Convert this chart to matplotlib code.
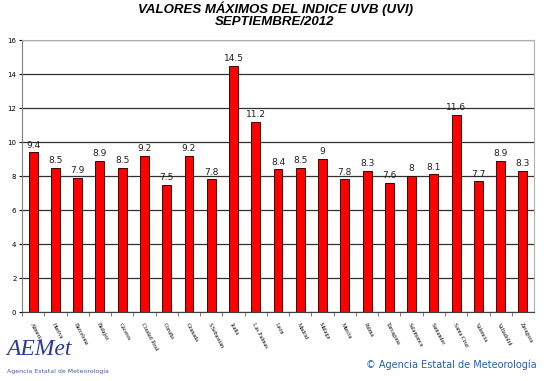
import numpy as np
import matplotlib.pyplot as plt

estaciones = ['Almería', 'Huelva', 'Barcelona', 'Badajoz', 'Cáceres', 'Ciudad Real',
              'Coruña', 'Granada', 'S.Sebastián', 'Izaña', 'Las Palmas', 'León',
              'Madrid', 'Málaga', 'Murcia', 'Palma', 'Tarragona', 'Salamanca',
              'Santander', 'Santa Cruz', 'Valencia', 'Valladolid', 'Zaragoza']
uvi_max = [9.4, 8.5, 7.9, 8.9, 8.5, 9.2, 7.5, 9.2, 7.8, 14.5, 11.2, 8.4,
           8.5, 9, 7.8, 8.3, 7.6, 8, 8.1, 11.6, 7.7, 8.9, 8.3]
y_ticks = [0, 2, 4, 6, 8, 10, 12, 14, 16]

fig = plt.figure(figsize=(5.5, 3.81), dpi=100)
ax = fig.add_axes([0.04, 0.181, 0.931, 0.714])

x = np.arange(len(estaciones))
ax.set_axisbelow(True)
ax.grid(axis='y', color='#303030', linewidth=0.9)
ax.bar(x, uvi_max, width=0.4, color='#ff0000', edgecolor='#400000', linewidth=0.7)

for xi, v in zip(x, uvi_max):
    ax.text(xi, v + 0.15, f'{v:g}', ha='center', va='bottom', fontsize=6.5,
            color='#202020')

ax.set_xlim(-0.5, len(estaciones) - 0.5)
ax.set_ylim(0, 16)
ax.set_yticks(y_ticks)
ax.tick_params(axis='y', labelsize=5, length=2, pad=2)
ax.set_xticks(x - 0.5, minor=False)
ax.set_xticklabels([])
ax.set_xticks(x, minor=True)
ax.set_xticklabels(estaciones, minor=True, rotation=-62, ha='left',
                   rotation_mode='anchor', fontsize=4.3, family='Liberation Serif')
ax.tick_params(axis='x', which='major', length=3, color='#808080')
ax.tick_params(axis='x', which='minor', length=0, pad=7)
for s in ['top', 'right']:
    ax.spines[s].set_color('#b0b0b0')
ax.spines['left'].set_color('#808080')
ax.spines['bottom'].set_color('#404040')

fig.text(0.5, 0.977, 'VALORES MÁXIMOS DEL INDICE UVB (UVI)', ha='center', va='center',
         fontsize=9.5, fontweight='bold', style='italic', family='Liberation Sans')
fig.text(0.5, 0.943, 'SEPTIEMBRE/2012', ha='center', va='center',
         fontsize=9.5, fontweight='bold', style='italic', family='Liberation Sans')

# logo aproximado
fig.text(0.012, 0.055, 'AEMet', ha='left', va='bottom', fontsize=17, color='#2b3b9a',
         style='italic', family='Liberation Serif')
fig.text(0.012, 0.018, 'Agencia Estatal de Meteorología', ha='left', va='bottom',
         fontsize=4.5, color='#4a5aa8')
fig.text(0.975, 0.03, '© Agencia Estatal de Meteorología', ha='right', va='bottom',
         fontsize=7, color='#2060b0')

fig.savefig('out.png', dpi=100)
